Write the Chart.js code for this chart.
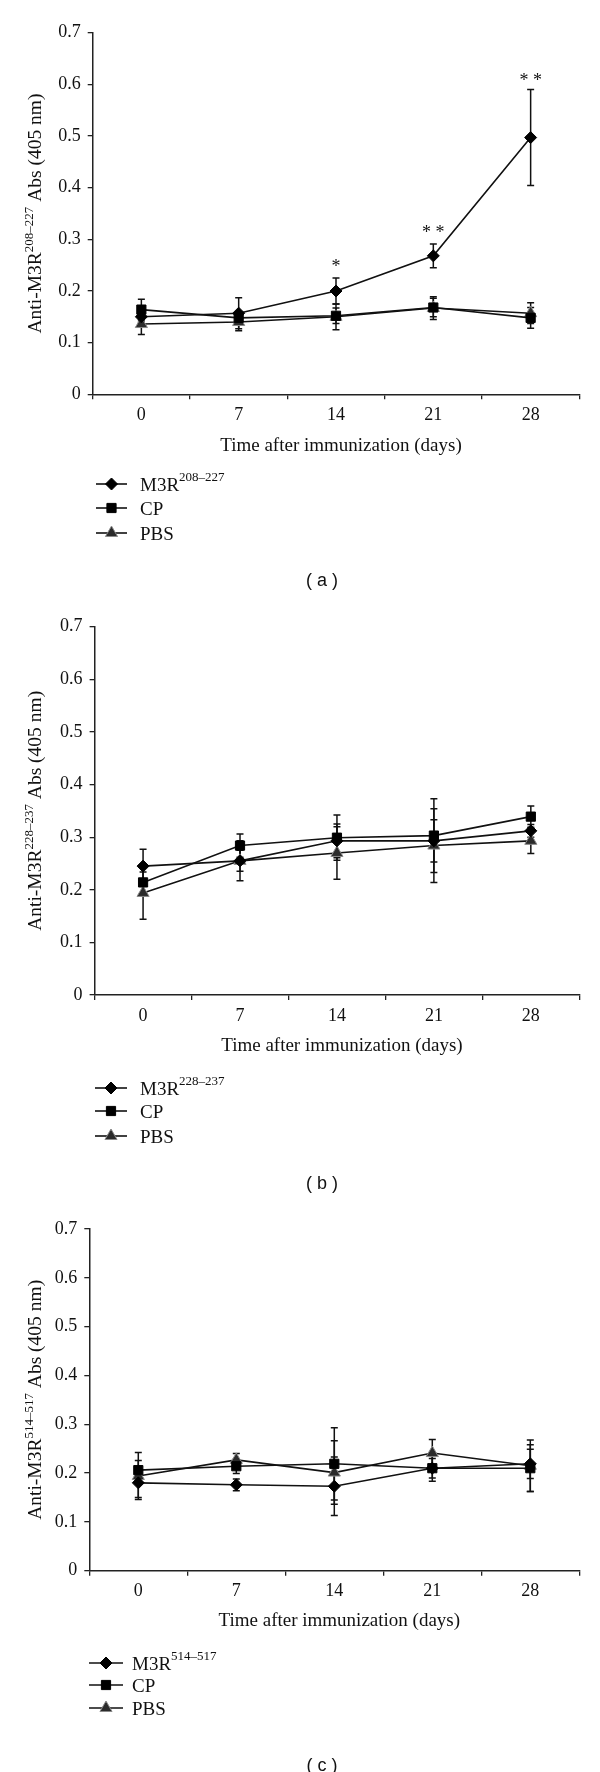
<!DOCTYPE html>
<html>
<head>
<meta charset="utf-8">
<script src="https://cdn.jsdelivr.net/npm/chart.js@4.4.1/dist/chart.umd.min.js"></script>
<style>
    body { margin: 0; background: #fff; }
    .panel { position: relative; width: 600px; }
</style>
</head>
<body>
<div class="panel" style="height:592px"><canvas id="chartA"></canvas></div>
<div class="panel" style="height:603px"><canvas id="chartB"></canvas></div>
<div class="panel" style="height:577px"><canvas id="chartC"></canvas></div>
<script>
// x categories (days after immunization)
const days = ['0', '7', '14', '21', '28'];

// panel (a)
const m3r208 = [0.150, 0.157, 0.200, 0.268, 0.497];
const m3r208Err = [0.010, 0.030, 0.025, 0.023, 0.093];
const cpA = [0.164, 0.148, 0.152, 0.168, 0.148];
const cpAErr = [0.020, 0.012, 0.015, 0.018, 0.020];
const pbsA = [0.136, 0.140, 0.150, 0.167, 0.157];
const pbsAErr = [0.020, 0.017, 0.025, 0.022, 0.020];
const starsA = ['', '', '*', '* *', '* *'];
const starLevelsA = [null, null, 0.257, 0.322, 0.616];

// panel (b)
const m3r228 = [0.245, 0.255, 0.293, 0.293, 0.312];
const m3r228Err = [0.032, 0.020, 0.032, 0.040, 0.012];
const cpB = [0.214, 0.284, 0.299, 0.303, 0.339];
const cpBErr = [0.020, 0.022, 0.043, 0.070, 0.020];
const pbsB = [0.194, 0.255, 0.270, 0.284, 0.293];
const pbsBErr = [0.050, 0.038, 0.050, 0.070, 0.024];

// panel (c)
const m3r514 = [0.180, 0.176, 0.173, 0.210, 0.219];
const m3r514Err = [0.030, 0.012, 0.060, 0.020, 0.030];
const cpC = [0.206, 0.214, 0.219, 0.210, 0.210];
const cpCErr = [0.020, 0.015, 0.074, 0.027, 0.048];
const pbsC = [0.194, 0.227, 0.201, 0.241, 0.215];
const pbsCErr = [0.048, 0.013, 0.065, 0.028, 0.053];

const serif = "'Liberation Serif', 'Times New Roman', serif";
const ink = '#111';

const markers = [
    { pointStyle: 'rectRot', radius: 6, fill: '#000', stroke: '#000' },
    { pointStyle: 'rect', radius: 6.5, fill: '#000', stroke: '#000' },
    { pointStyle: 'triangle', radius: 7, fill: '#2b2b2b', stroke: '#8a8a8a' }
];

function makeDataset(label, values, errors, m) {
    return {
        label: label,
        data: values,
        errors: errors,
        borderColor: ink,
        borderWidth: 1.6,
        tension: 0,
        pointStyle: m.pointStyle,
        pointRadius: m.radius,
        pointHoverRadius: m.radius,
        pointBackgroundColor: m.fill,
        pointBorderColor: m.stroke,
        pointBorderWidth: 1
    };
}

// error bars, y title, stars, legend, caption
const extrasPlugin = {
    id: 'extras',
    beforeDatasetsDraw(chart) {
        const ctx = chart.ctx;
        const y = chart.scales.y;
        ctx.save();
        ctx.strokeStyle = ink;
        ctx.lineWidth = 1.5;
        chart.data.datasets.forEach((ds, di) => {
            const meta = chart.getDatasetMeta(di);
            ds.data.forEach((v, i) => {
                const px = meta.data[i].x;
                const top = y.getPixelForValue(v + ds.errors[i]);
                const bot = y.getPixelForValue(v - ds.errors[i]);
                ctx.beginPath();
                ctx.moveTo(px, top); ctx.lineTo(px, bot);
                ctx.moveTo(px - 3.5, top); ctx.lineTo(px + 3.5, top);
                ctx.moveTo(px - 3.5, bot); ctx.lineTo(px + 3.5, bot);
                ctx.stroke();
            });
        });
        ctx.restore();
    },
    afterDraw(chart, args, opts) {
        const ctx = chart.ctx;
        const area = chart.chartArea;
        const xs = chart.scales.x;
        const ys = chart.scales.y;
        ctx.save();
        ctx.fillStyle = ink;

        // rotated y title with superscript
        const yBig = '19.5px ' + serif;
        const big = '19px ' + serif;
        const small = '13px ' + serif;
        ctx.font = yBig;
        const p1 = 'Anti-M3R', p3 = ' Abs (405 nm)';
        const w1 = ctx.measureText(p1).width;
        const w3 = ctx.measureText(p3).width;
        ctx.font = small;
        const w2 = ctx.measureText(opts.sup).width;
        ctx.translate(41, (area.top + area.bottom) / 2);
        ctx.rotate(-Math.PI / 2);
        let sx = -(w1 + w2 + w3) / 2;
        ctx.textBaseline = 'alphabetic';
        ctx.textAlign = 'left';
        ctx.font = yBig;
        ctx.fillText(p1, sx, 0);
        ctx.font = small;
        ctx.fillText(opts.sup, sx + w1, -8);
        ctx.font = yBig;
        ctx.fillText(p3, sx + w1 + w2, 0);
        ctx.setTransform(1, 0, 0, 1, 0, 0);

        // x title
        ctx.font = big;
        ctx.textAlign = 'center';
        ctx.textBaseline = 'middle';
        ctx.fillText('Time after immunization (days)', (area.left + area.right) / 2 + 5, opts.xTitleY);

        // significance stars
        if (opts.stars) {
            ctx.font = '18px ' + serif;
            ctx.textBaseline = 'alphabetic';
            opts.stars.forEach((s, i) => {
                if (!s) return;
                ctx.fillText(s, xs.getPixelForValue(i), ys.getPixelForValue(opts.starLevels[i]) + 10);
            });
        }

        // legend
        const names = [['M3R', opts.sup], ['CP', ''], ['PBS', '']];
        names.forEach((n, i) => {
            const ly = opts.legendY[i];
            ctx.strokeStyle = ink;
            ctx.lineWidth = 1.6;
            ctx.beginPath();
            ctx.moveTo(opts.legendX[0], ly);
            ctx.lineTo(opts.legendX[1], ly);
            ctx.stroke();
            const m = markers[i];
            ctx.fillStyle = m.fill;
            ctx.strokeStyle = m.stroke;
            ctx.lineWidth = 1;
            Chart.helpers.drawPoint(ctx, { pointStyle: m.pointStyle, radius: m.radius, rotation: 0, borderWidth: 1 },
                (opts.legendX[0] + opts.legendX[1]) / 2, ly);
            ctx.fillStyle = ink;
            ctx.textAlign = 'left';
            ctx.textBaseline = 'alphabetic';
            ctx.font = big;
            ctx.fillText(n[0], opts.legendX[2], ly + 7);
            if (n[1]) {
                const wn = ctx.measureText(n[0]).width;
                ctx.font = small;
                ctx.fillText(n[1], opts.legendX[2] + wn, ly - 3);
            }
        });

        // caption
        ctx.font = "18px 'Liberation Sans', Arial, sans-serif";
        ctx.textAlign = 'center';
        ctx.textBaseline = 'middle';
        ctx.fillText(opts.caption, 322, opts.captionY);
        ctx.restore();
    }
};

function renderPanel(id, datasets, box, extras) {
    const canvas = document.getElementById(id);
    const h = canvas.parentNode.clientHeight;
    new Chart(canvas.getContext('2d'), {
        type: 'line',
        data: { labels: days, datasets: datasets },
        plugins: [extrasPlugin],
        options: {
            responsive: true,
            maintainAspectRatio: false,
            animation: false,
            layout: {
                autoPadding: false,
                padding: { left: 0, top: box.top, right: 600 - box.right, bottom: 0 }
            },
            plugins: {
                legend: { display: false },
                tooltip: { enabled: false },
                extras: extras
            },
            scales: {
                x: {
                    type: 'category',
                    offset: true,
                    grid: { offset: true, drawOnChartArea: false, tickLength: 5, color: '#222', lineWidth: 1.3 },
                    border: { color: '#222', width: 1.5 },
                    ticks: { color: ink, font: { family: serif, size: 18 }, padding: 5, maxRotation: 0 },
                    afterFit: s => { s.height = h - box.bottom; }
                },
                y: {
                    min: 0,
                    max: 0.7,
                    grid: { drawOnChartArea: false, tickLength: 5, color: '#222', lineWidth: 1.3 },
                    border: { color: '#222', width: 1.5 },
                    ticks: {
                        stepSize: 0.1,
                        color: ink,
                        font: { family: serif, size: 18 },
                        padding: 7,
                        callback: v => (v === 0 ? '0' : v.toFixed(1))
                    },
                    afterFit: s => { s.width = box.left; }
                }
            }
        }
    });
}

renderPanel('chartA', [
    makeDataset('M3R208-227', m3r208, m3r208Err, markers[0]),
    makeDataset('CP', cpA, cpAErr, markers[1]),
    makeDataset('PBS', pbsA, pbsAErr, markers[2])
], { left: 92.7, right: 579.3, top: 32.7, bottom: 394.3 }, {
    sup: '208\u2013227', stars: starsA, starLevels: starLevelsA,
    xTitleY: 446, legendY: [484, 508, 533], legendX: [96, 127, 140], caption: '( a )', captionY: 581
});

renderPanel('chartB', [
    makeDataset('M3R228-237', m3r228, m3r228Err, markers[0]),
    makeDataset('CP', cpB, cpBErr, markers[1]),
    makeDataset('PBS', pbsB, pbsBErr, markers[2])
], { left: 94.6, right: 579.3, top: 34.7, bottom: 403 }, {
    sup: '228\u2013237',
    xTitleY: 454, legendY: [496, 519, 544], legendX: [95, 127, 140], caption: '( b )', captionY: 592
});

renderPanel('chartC', [
    makeDataset('M3R514-517', m3r514, m3r514Err, markers[0]),
    makeDataset('CP', cpC, cpCErr, markers[1]),
    makeDataset('PBS', pbsC, pbsCErr, markers[2])
], { left: 89.3, right: 579.3, top: 34, bottom: 375.7 }, {
    sup: '514\u2013517',
    xTitleY: 426, legendY: [468, 490, 513], legendX: [89, 123, 132], caption: '( c )', captionY: 571
});
</script>
</body>
</html>
